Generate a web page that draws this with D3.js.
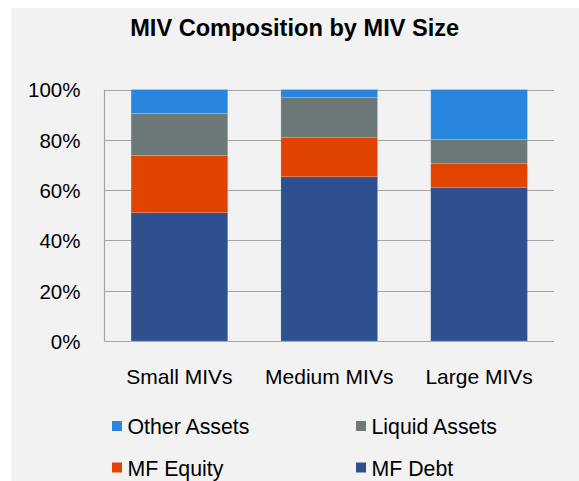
<!DOCTYPE html>
<html>
<head>
<meta charset="utf-8">
<script src="https://cdn.jsdelivr.net/npm/d3@7"></script>
<style>
  html, body { margin: 0; padding: 0; background: #ffffff; }
  svg { display: block; }
  text { font-family: "Liberation Sans", Arial, sans-serif; fill: #000; }
</style>
</head>
<body>
<svg id="chart" width="579" height="481"></svg>
<script>
const categories = ["Small MIVs", "Medium MIVs", "Large MIVs"];
const seriesNames = ["MF Debt", "MF Equity", "Liquid Assets", "Other Assets"];
const mfDebt = [0.51, 0.653, 0.611];
const mfEquity = [0.228, 0.157, 0.094];
const liquidAssets = [0.167, 0.159, 0.097];
const otherAssets = [0.095, 0.031, 0.198];
const yTicks = [0, 0.2, 0.4, 0.6, 0.8, 1.0];
const legendOrder = ["Other Assets", "Liquid Assets", "MF Equity", "MF Debt"];
const colors = {
  "MF Debt": "#2e508f",
  "MF Equity": "#e04400",
  "Liquid Assets": "#6b7a79",
  "Other Assets": "#2886de"
};

const seriesValues = {
  "MF Debt": mfDebt,
  "MF Equity": mfEquity,
  "Liquid Assets": liquidAssets,
  "Other Assets": otherAssets
};
const table = categories.map((c, i) => {
  const row = { category: c };
  seriesNames.forEach(s => row[s] = seriesValues[s][i]);
  return row;
});

const svg = d3.select("#chart");
svg.append("rect").attr("x", 11).attr("y", 8).attr("width", 579 - 11).attr("height", 481 - 8).attr("fill", "#f2f2f2");

const pLeft = 104.5, pRight = 554, pTop = 89.5, pBottom = 341;
const x = d3.scaleBand().domain(categories).range([pLeft, pRight]).paddingInner(0.355).paddingOuter(0.1775);
const y = d3.scaleLinear().domain([0, 1]).range([pBottom, pTop]);

// gridlines
svg.append("g").selectAll("line").data(yTicks).join("line")
  .attr("x1", pLeft).attr("x2", pRight)
  .attr("y1", d => Math.round(y(d)) + 0.5).attr("y2", d => Math.round(y(d)) + 0.5)
  .attr("stroke", "#a5a5a5").attr("stroke-width", 1.2);

// y axis line
svg.append("line").attr("x1", pLeft).attr("x2", pLeft).attr("y1", pTop).attr("y2", pBottom + 0.5)
  .attr("stroke", "#a5a5a5").attr("stroke-width", 1.2);

// y axis labels
const yAxis = d3.axisLeft(y).tickValues(yTicks).tickFormat(d3.format(".0%")).tickSize(0).tickPadding(24);
const yg = svg.append("g").attr("transform", `translate(${pLeft},0)`).call(yAxis);
yg.select(".domain").remove();
yg.selectAll("text").attr("font-size", "20.5px").attr("font-family", "'Liberation Sans', Arial, sans-serif").attr("fill", "#000").attr("dy", "0.36em");

// stacked bars
const stack = d3.stack().keys(seriesNames);
const stacked = stack(table);
svg.append("g").selectAll("g").data(stacked).join("g")
  .attr("fill", d => colors[d.key])
  .selectAll("rect").data(d => d).join("rect")
  .attr("x", d => x(d.data.category))
  .attr("width", x.bandwidth())
  .attr("y", d => y(d[1]))
  .attr("height", d => y(d[0]) - y(d[1]))
  .attr("stroke", "rgba(255,255,255,0.2)")
  .attr("stroke-width", 0.7);

// x axis labels
const xAxis = d3.axisBottom(x).tickSize(0).tickPadding(28);
const xg = svg.append("g").attr("transform", `translate(0,${pBottom})`).call(xAxis);
xg.select(".domain").remove();
xg.selectAll("text").attr("font-size", "21px").attr("font-family", "'Liberation Sans', Arial, sans-serif").attr("fill", "#000").attr("dy", "0.71em");

// title
svg.append("text").attr("x", 294.7).attr("y", 36).attr("text-anchor", "middle")
  .attr("font-size", "23.6px").attr("font-weight", "bold").text("MIV Composition by MIV Size");

// legend
const legendPos = [
  { x: 112, y: 421 }, { x: 356, y: 421 },
  { x: 112, y: 462.5 }, { x: 356, y: 462.5 }
];
const lg = svg.append("g").selectAll("g").data(legendOrder).join("g")
  .attr("transform", (d, i) => `translate(${legendPos[i].x},${legendPos[i].y})`);
lg.append("rect").attr("width", 10).attr("height", 10).attr("fill", d => colors[d]);
lg.append("text").attr("x", 15.5).attr("y", 13).attr("font-size", "21.3px").text(d => d);
</script>
</body>
</html>
